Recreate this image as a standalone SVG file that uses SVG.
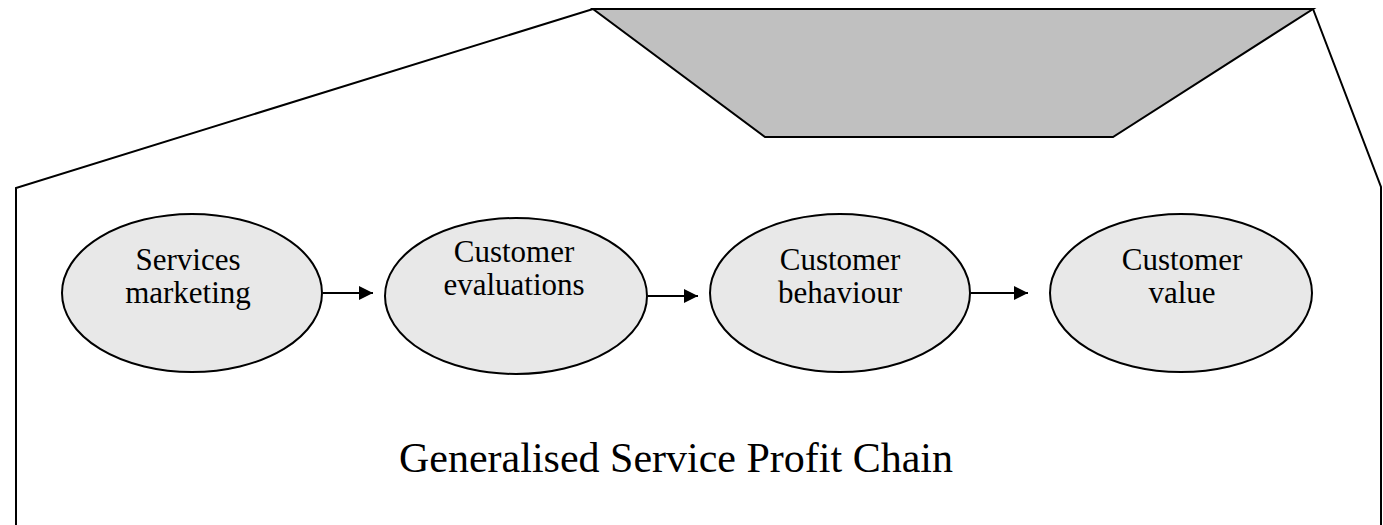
<svg xmlns="http://www.w3.org/2000/svg" width="1383" height="525" viewBox="0 0 1383 525">
<style>
.ln{fill:none;stroke:#000;stroke-width:2}
.el{fill:#e8e8e8;stroke:#000;stroke-width:2}
.tx{font-family:"Liberation Serif","Times New Roman",serif;font-size:31px;fill:#000;text-anchor:middle}
.title{font-family:"Liberation Serif","Times New Roman",serif;font-size:42px;fill:#000;text-anchor:middle}
</style>
<defs>
<marker id="ah" markerWidth="14" markerHeight="14" refX="14" refY="7" orient="auto" markerUnits="userSpaceOnUse" viewBox="0 0 14 14">
<path d="M0,0 L14,7 L0,14 z" fill="#000"/>
</marker>
</defs>
<rect width="1383" height="525" fill="#fff"/>
<g id="outline">
<polyline class="ln" points="16,525 16,188 593,9 1313,9 1381,187 1381,525"/>
<polygon points="593,9 1313,9 1113,137 765,137" fill="#c0c0c0" stroke="#000" stroke-width="2"/>
</g>
<g id="node1">
<ellipse class="el" cx="192" cy="293" rx="130" ry="79"/>
<text class="tx" x="188" y="270">Services</text>
<text class="tx" x="188" y="303">marketing</text>
</g>
<g id="node2">
<ellipse class="el" cx="516" cy="296" rx="131" ry="78"/>
<text class="tx" x="514" y="262">Customer</text>
<text class="tx" x="514" y="295">evaluations</text>
</g>
<g id="node3">
<ellipse class="el" cx="840" cy="293" rx="130" ry="79"/>
<text class="tx" x="840" y="270">Customer</text>
<text class="tx" x="840" y="303">behaviour</text>
</g>
<g id="node4">
<ellipse class="el" cx="1181" cy="293" rx="131" ry="79"/>
<text class="tx" x="1182" y="270">Customer</text>
<text class="tx" x="1182" y="303">value</text>
</g>
<g id="connectors">
<line x1="323" y1="293" x2="373" y2="293" stroke="#000" stroke-width="2" marker-end="url(#ah)"/>
<line x1="648" y1="296" x2="698" y2="296" stroke="#000" stroke-width="2" marker-end="url(#ah)"/>
<line x1="971" y1="293" x2="1028" y2="293" stroke="#000" stroke-width="2" marker-end="url(#ah)"/>
</g>
<text class="title" x="676" y="472">Generalised Service Profit Chain</text>
</svg>
